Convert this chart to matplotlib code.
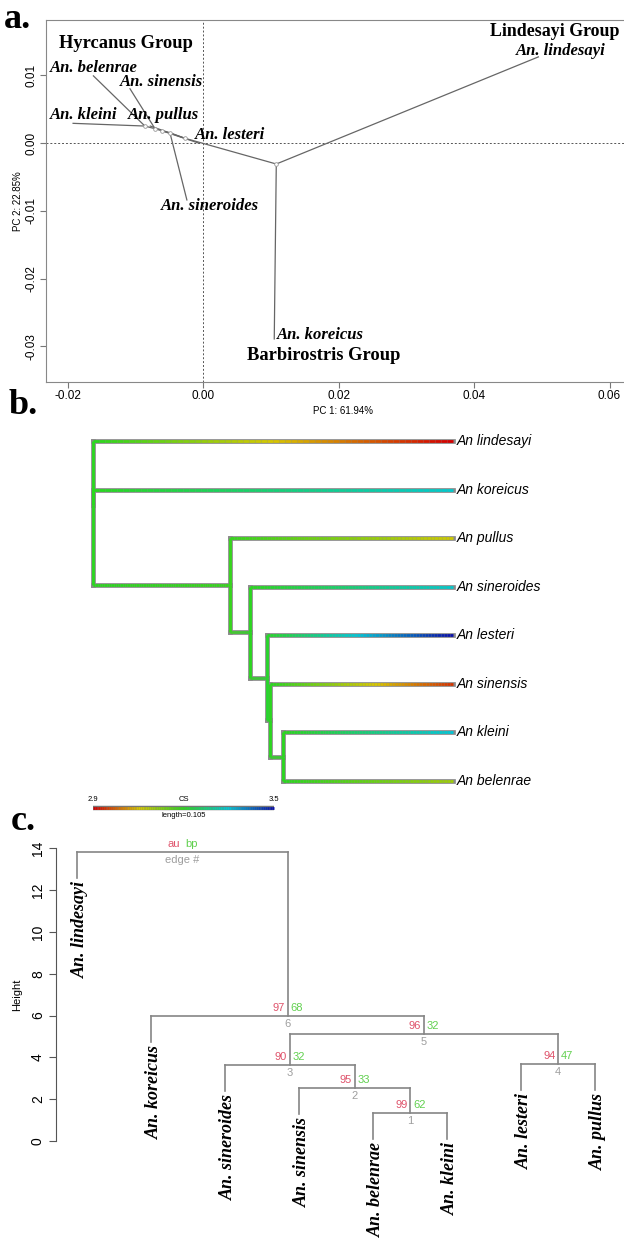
import numpy as np
import matplotlib.pyplot as plt
from matplotlib.collections import LineCollection
from matplotlib.colors import LinearSegmentedColormap, Normalize

W, H = 624, 1240
fig = plt.figure(figsize=(W / 100, H / 100), dpi=100)

SERIF = "Liberation Serif"
SANS = "Liberation Sans"


def px_axes(l, t, r, b):
    # axes placed by pixel box (left, top, right, bottom)
    return fig.add_axes([l / W, 1 - b / H, (r - l) / W, (b - t) / H])


# ---------------- data ----------------
tips = ["lindesayi", "koreicus", "pullus", "sineroides",
        "lesteri", "sinensis", "kleini", "belenrae"]
# tree: n0 = root, n1..n5 internal nodes
edges = [("n0", "t0"), ("n0", "t1"), ("n0", "n1"),
         ("n1", "t2"), ("n1", "n2"),
         ("n2", "t3"), ("n2", "n3"),
         ("n3", "t4"), ("n3", "n4"),
         ("n4", "t5"), ("n4", "n5"),
         ("n5", "t6"), ("n5", "t7")]

# a. PCA scores (tips and reconstructed nodes)
tip_pc1 = [0.0495, 0.0105, -0.0078, -0.0024, -0.0007, -0.0108, -0.0192, -0.0162]
tip_pc2 = [0.0127, -0.0289, 0.0025, -0.0084, 0.0000, 0.0080, 0.0029, 0.0099]
node_pc1 = [0.0108, -0.0027, -0.0049, -0.0061, -0.0071, -0.0086]
node_pc2 = [-0.0031, 0.0007, 0.0015, 0.0018, 0.0021, 0.0025]

# b. contMap: node depths and centroid size
tip_depth = 0.2088
node_depth = [0.0, 0.0795, 0.0911, 0.1009, 0.1027, 0.1102]
tip_cs = [2.90, 3.34, 3.06, 3.34, 3.50, 2.94, 3.35, 3.10]
node_cs = [3.20, 3.19, 3.20, 3.21, 3.20, 3.20]
cs_lim = (2.9, 3.5)
scale_len = 0.105

# c. pvclust dendrogram
leaf_order = ["lindesayi", "koreicus", "sineroides", "sinensis",
              "belenrae", "kleini", "lesteri", "pullus"]
merge_a = [-5, -4, -3, -7, 3, -2, -1]
merge_b = [-6, 1, 2, -8, 4, 5, 6]
merge_h = [1.33, 2.53, 3.64, 3.68, 5.12, 5.99, 13.83]
au = [99, 95, 90, 94, 96, 97]
bp = [62, 33, 32, 47, 32, 68]


def get(k, tipvals, nodevals):
    return tipvals[int(k[1:])] if k[0] == "t" else nodevals[int(k[1:])]


# ---------------- a. phylomorphospace ----------------
ax = px_axes(46, 20, 640, 382)
ax.set_xlim(-0.0232, 0.0645)
ax.set_ylim(-0.03525, 0.01814)
ax.axvline(0, color="#555555", lw=0.7, ls=(0, (2, 2)), zorder=0)
ax.axhline(0, color="#555555", lw=0.7, ls=(0, (2, 2)), zorder=0)
for p, c in edges:
    ax.plot([get(p, tip_pc1, node_pc1), get(c, tip_pc1, node_pc1)],
            [get(p, tip_pc2, node_pc2), get(c, tip_pc2, node_pc2)],
            color="#666666", lw=0.9, zorder=2)
ax.scatter(node_pc1, node_pc2, s=7, facecolor="white", edgecolor="#999999",
           lw=0.6, zorder=3)

sp = dict(family=SERIF, fontweight="bold", fontstyle="italic", fontsize=12,
          va="center", ha="left")
gp = dict(family=SERIF, fontweight="bold", fontsize=13.3, va="center", ha="left")
ax.text(-0.0213, 0.0147, "Hyrcanus Group", **gp)
ax.text(-0.0226, 0.0111, "An. belenrae", **sp)
ax.text(-0.0123, 0.0090, "An. sinensis", **sp)
ax.text(-0.0226, 0.0041, "An. kleini", **sp)
ax.text(-0.0111, 0.0041, "An. pullus", **sp)
ax.text(-0.0012, 0.0012, "An. lesteri", **sp)
ax.text(-0.0062, -0.0093, "An. sineroides", **sp)
ax.text(0.0424, 0.0164, "Lindesayi Group", **dict(gp, fontsize=12.9))
ax.text(0.0462, 0.0136, "An. lindesayi", **sp)
ax.text(0.0109, -0.0283, "An. koreicus", **sp)
ax.text(0.0065, -0.0314, "Barbirostris Group", **gp)

xt = [-0.02, 0.0, 0.02, 0.04, 0.06]
yt = [-0.03, -0.02, -0.01, 0.0, 0.01]
ax.set_xticks(xt)
ax.set_xticklabels([f"{v:.2f}" for v in xt], family=SANS, fontsize=8.5)
ax.set_yticks(yt)
ax.set_yticklabels([f"{v:.2f}" for v in yt], family=SANS, fontsize=8.5,
                   rotation=90, va="center")
ax.tick_params(length=4, color="#777777", pad=2)
for s in ax.spines.values():
    s.set_color("#888888")
ax.spines["right"].set_visible(False)
ax.set_xlabel("PC 1: 61.94%", family=SANS, fontsize=7, labelpad=3)
ax.set_ylabel("PC 2: 22.85%", family=SANS, fontsize=7, labelpad=2)

# ---------------- b. contMap tree ----------------
cmap = LinearSegmentedColormap.from_list(
    "cs", ["#d40000", "#d8c800", "#2ad81e", "#00c8d8", "#0a10a8"])
norm = Normalize(*cs_lim)

bx = px_axes(0, 420, 624, 830)
bx.set_xlim(-93 / 1724, 531 / 1724)
bx.set_ylim(9.009, 0.5676)
bx.axis("off")

children = {}
for p, c in edges:
    children.setdefault(p, []).append(c)
ypos = {f"t{i}": i + 1 for i in range(len(tips))}


def node_y(k):
    if k not in ypos:
        ypos[k] = np.mean([node_y(c) for c in children[k]])
    return ypos[k]


node_y("n0")
depth = lambda k: tip_depth if k[0] == "t" else node_depth[int(k[1:])]
csv = lambda k: get(k, tip_cs, node_cs)

segs, vals, outl = [], [], []
for p, c in edges:
    x0, x1, y = depth(p), depth(c), ypos[c]
    v0, v1 = csv(p), csv(c)
    xs = np.linspace(x0, x1, 61)
    vs = np.linspace(v0, v1, 60)
    for i in range(60):
        segs.append([(xs[i], y), (xs[i + 1], y)])
        vals.append(vs[i])
    segs.append([(x0, ypos[p]), (x0, y)])
    vals.append(v0)
    outl += [[(x0, y), (x1, y)], [(x0, ypos[p]), (x0, y)]]
bx.add_collection(LineCollection(outl, colors="#8a8a8a", lw=3.4,
                                 capstyle="projecting"))
lc = LineCollection(segs, cmap=cmap, norm=norm, lw=2.0, capstyle="butt")
lc.set_array(np.array(vals))
bx.add_collection(lc)
for i, t in enumerate(tips):
    bx.text(tip_depth + 0.002, i + 1, "An " + t, family=SANS,
            fontstyle="italic", fontsize=10, va="center", ha="left")

# legend bar
ly = 8.556
lxs = np.linspace(0, scale_len, 101)
bx.plot([0, scale_len], [ly, ly], color="#777777", lw=3.2,
        solid_capstyle="butt")
leg = LineCollection([[(lxs[i], ly), (lxs[i + 1], ly)] for i in range(100)],
                     cmap=cmap, norm=norm, lw=2.0)
leg.set_array(np.linspace(cs_lim[0], cs_lim[1], 100))
bx.add_collection(leg)
lp = dict(family=SANS, fontsize=5.5)
bx.text(0, ly - 0.1, "2.9", ha="center", va="bottom", **lp)
bx.text(scale_len / 2, ly - 0.1, "CS", ha="center", va="bottom", **lp)
bx.text(scale_len, ly - 0.1, "3.5", ha="center", va="bottom", **lp)
bx.text(scale_len / 2, ly + 0.09, f"length={scale_len}", ha="center",
        va="top", **lp)

# ---------------- c. pvclust dendrogram ----------------
cx = px_axes(56, 840, 616, 1150)
cx.set_xlim(0.716, 8.28)
cx.set_ylim(-0.43, 14.40)
for s in ["top", "right", "bottom"]:
    cx.spines[s].set_visible(False)
cx.spines["left"].set_bounds(0, 14)
cx.spines["left"].set_color("#555555")
cx.set_xticks([])
cx.set_yticks(range(0, 15, 2))
cx.set_yticklabels([str(v) for v in range(0, 15, 2)], family=SANS,
                   fontsize=10, rotation=90, va="center")
cx.tick_params(axis="y", length=5, color="#555555", pad=3)
cx.set_ylabel("Height", family=SANS, fontsize=8, labelpad=6)

hang = 0.1 * (max(merge_h) - min(merge_h))
mx = {}
line_c = "#858585"


def child_xy(k, h):
    if k < 0:
        return k, -k, h - hang
    return k, mx[k], merge_h[k - 1]


for i in range(len(merge_h)):
    h = merge_h[i]
    ends = []
    for k in (merge_a[i], merge_b[i]):
        _, x, y = child_xy(k, h)
        ends.append(x)
        cx.plot([x, x], [y, h], color=line_c, lw=1.2, clip_on=False)
        if k < 0:
            cx.text(x + 0.04, y - 0.15, "An. " + leaf_order[-k - 1], rotation=90,
                    ha="center", va="top", family=SERIF, fontweight="bold",
                    fontstyle="italic", fontsize=13, clip_on=False)
    cx.plot(ends, [h, h], color=line_c, lw=1.2)
    mx[i + 1] = np.mean(ends)
    x = mx[i + 1]
    if i < len(au):
        a_t, b_t, e_t = str(au[i]), str(bp[i]), str(i + 1)
    else:
        a_t, b_t, e_t = "au", "bp", "edge #"
    np_ = dict(family=SANS, fontsize=8, textcoords="offset points")
    cx.annotate(a_t, (x, h), xytext=(-2, 2), ha="right", va="bottom",
                color="#DF536B", **np_)
    cx.annotate(b_t, (x, h), xytext=(2, 2), ha="left", va="bottom",
                color="#61D04F", **np_)
    cx.annotate(e_t, (x, h), xytext=(0, -2), ha="center", va="top",
                color="#9E9E9E", **np_)

# panel letters
lt = dict(family=SERIF, fontweight="bold", fontsize=26, va="center", ha="left")
fig.text(4 / W, 1 - 20 / H, "a.", **lt)
fig.text(9 / W, 1 - 405 / H, "b.", **lt)
fig.text(11 / W, 1 - 822 / H, "c.", **lt)

fig.savefig("out.png", dpi=100)
